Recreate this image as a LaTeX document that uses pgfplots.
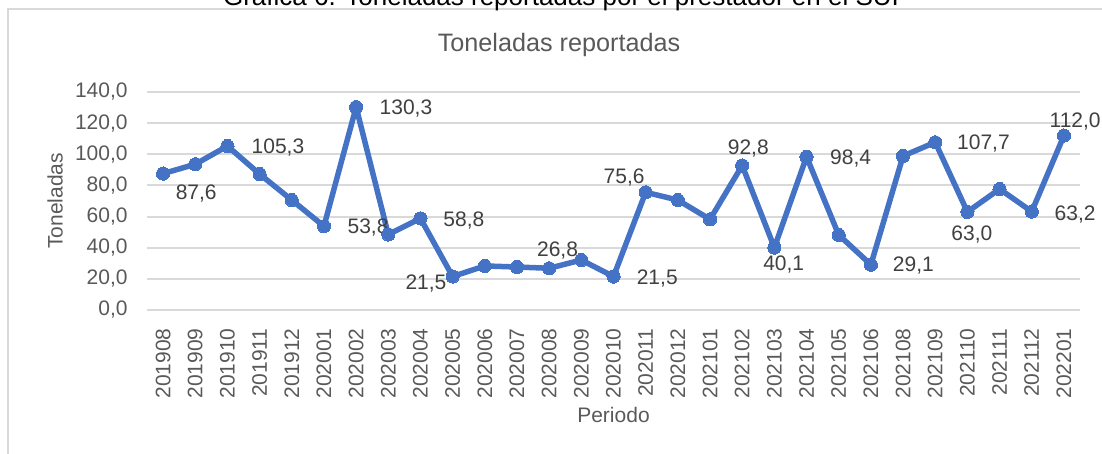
\documentclass[border=0pt]{standalone}
\usepackage{fontspec}
\setmainfont{Liberation Sans}
\setsansfont{Liberation Sans}
\usepackage{pgfplots}
\pgfplotsset{compat=1.18}
\definecolor{serie}{HTML}{4472C4}
\definecolor{rejilla}{HTML}{D9D9D9}
\definecolor{textogris}{HTML}{595959}
\definecolor{etiqueta}{HTML}{404040}

\begin{document}
\begin{tikzpicture}
% marco del grafico (recortado por la pagina)
\draw[rejilla, line width=1pt] (4pt,-10pt) -- (4pt,222.5pt) -- (580pt,222.5pt);
\node[anchor=base, font=\fontsize{13}{15}\selectfont, black, inner sep=0pt]
  at (280.5pt,224.2pt) {Gráfica 6. Toneladas reportadas por el prestador en el SUI};

\begin{axis}[
    at={(73.5pt,72pt)}, anchor=south west,
    scale only axis,
    width=466.5pt, height=109pt,
    xmin=-0.5, xmax=28.5,
    ymin=0, ymax=140,
    ytick={0,20,...,140},
    xtick={0,...,28},
    xticklabels={201908,201909,201910,201911,201912,202001,202002,202003,202004,
      202005,202006,202007,202008,202009,202010,202011,202012,202101,202102,
      202103,202104,202105,202106,202108,202109,202110,202111,202112,202201},
    axis line style={draw=none},
    major tick length=0pt,
    ymajorgrids=true,
    grid style={rejilla, line width=1pt},
    clip=false,
    font=\fontsize{10.5}{12}\selectfont,
    /pgf/number format/assume math mode=true,
    yticklabel style={/pgf/number format/.cd, fixed, fixed zerofill, precision=1, use comma},
    every tick label/.append style={textogris, inner sep=0pt},
    yticklabel shift=9.5pt,
    xticklabel style={rotate=90, anchor=east},
    xticklabel shift=9pt,
    xlabel={Periodo},
    ylabel={Toneladas},
    every axis x label/.style={at={(axis description cs:0.5,-0.4817)}, anchor=center, textogris},
    every axis y label/.style={at={(axis description cs:-0.0986,0.5)}, rotate=90, anchor=center, textogris},
    title={Toneladas reportadas},
    every axis title/.style={at={(axis description cs:0.4416,1.2156)}, anchor=center,
      textogris, font=\fontsize{12.6}{14}\selectfont},
]
\addplot[serie, line width=2.75pt, line join=round, mark=*, mark size=3.3pt,
  mark options={fill=serie, draw=serie, line width=0pt}]
coordinates {
  (0,87.6) (1,93.6) (2,105.3) (3,87.3) (4,70.6) (5,53.8) (6,130.3) (7,48.5)
  (8,58.8) (9,21.5) (10,28.3) (11,27.6) (12,26.8) (13,32.1) (14,21.5) (15,75.6)
  (16,70.6) (17,58.2) (18,92.8) (19,40.1) (20,98.4) (21,48.2) (22,29.1) (23,98.9)
  (24,107.7) (25,63.0) (26,77.7) (27,63.2) (28,112.0)
};
% etiquetas de datos
\begin{scope}[every node/.style={etiqueta, inner sep=0pt, anchor=center}]
\node at (axis cs:1.03,75.1) {87,6};
\node at (axis cs:3.57,104.2) {105,3};
\node at (axis cs:7.55,129.5) {130,3};
\node at (axis cs:6.37,52.9) {53,8};
\node at (axis cs:9.35,57.4) {58,8};
\node at (axis cs:8.17,16.7) {21,5};
\node at (axis cs:12.26,38.1) {26,8};
\node at (axis cs:14.33,85.2) {75,6};
\node at (axis cs:15.36,19.9) {21,5};
\node at (axis cs:18.19,103.4) {92,8};
\node at (axis cs:19.29,28.9) {40,1};
\node at (axis cs:21.37,97.0) {98,4};
\node at (axis cs:23.32,28.3) {29,1};
\node at (axis cs:25.5,107.0) {107,7};
\node at (axis cs:25.14,48.2) {63,0};
\node at (axis cs:28.35,61.0) {63,2};
\node at (axis cs:28.35,121.0) {112,0};
\end{scope}
\end{axis}
\pgfresetboundingbox
\useasboundingbox (0,0) rectangle (551pt,227pt);
\end{tikzpicture}
\end{document}
